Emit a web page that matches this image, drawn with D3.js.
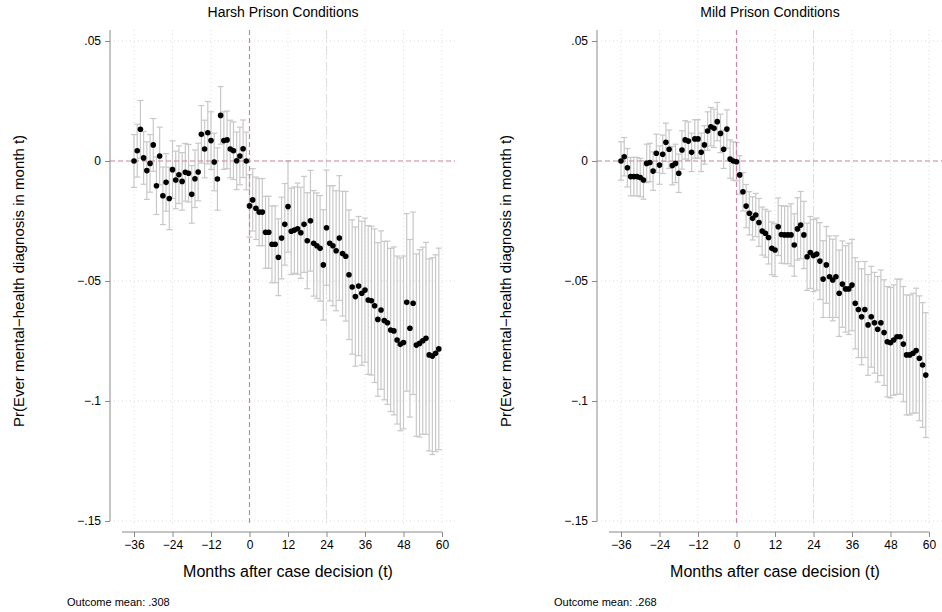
<!DOCTYPE html>
<html><head><meta charset="utf-8">
<script src="https://cdn.jsdelivr.net/npm/d3@7"></script>
<style>body{margin:0;background:#fff;font-family:"Liberation Sans",Arial,sans-serif}</style>
</head><body>
<svg id="chart" width="942" height="612"></svg>
<script>
const months = d3.range(-36, 60);
const xTicks = [-36, -24, -12, 0, 12, 24, 36, 48, 60];
const yTicks = [0.05, 0, -0.05, -0.1, -0.15];
const yTickLabels = [".05", "0", "\u2212.05", "\u2212.1", "\u2212.15"];

// harsh conditions
const harshEst = [0,.0043,.0132,.0013,-.0040,-.0010,.0067,-.0103,.0021,-.0145,-.0089,-.0156,-.0036,-.0079,-.0057,-.0085,-.0047,-.0051,-.0139,-.0074,-.0046,.0111,.0050,.0118,.0085,-.0004,-.0075,.0190,.0085,.0088,.0050,.0043,.0001,.0021,.0051,0,
 -.0187,-.0162,-.0197,-.0213,-.0213,-.0297,-.0297,-.0347,-.0347,-.0401,-.0321,-.0264,-.0190,-.0293,-.0288,-.0282,-.0299,-.0264,-.0332,-.0249,-.0343,-.0353,-.0364,-.0433,-.0278,-.0343,-.0353,-.0374,-.0321,-.0386,-.0397,-.0474,-.0525,-.0565,-.0521,-.0551,-.0538,-.0579,-.0582,-.0603,-.0660,-.0621,-.0665,-.0674,-.0704,-.0708,-.0746,-.0764,-.0756,-.0589,-.0697,-.0593,-.0767,-.0760,-.0749,-.0739,-.0808,-.0813,-.0801,-.0783];
const harshHalf = [.011,.011,.012,.011,.012,.012,.011,.012,.012,.012,.012,.013,.012,.012,.012,.012,.012,.012,.012,.012,.012,.012,.012,.013,.012,.012,.013,.012,.012,.012,.012,.012,.012,.012,.012,.012,
 .013,.013,.013,.014,.014,.015,.015,.016,.016,.016,.017,.017,.019,.018,.018,.019,.019,.020,.020,.021,.022,.022,.022,.023,.024,.024,.025,.025,.026,.026,.027,.027,.028,.029,.029,.030,.030,.031,.031,.032,.032,.033,.033,.034,.034,.035,.035,.036,.036,.037,.037,.038,.038,.039,.039,.040,.040,.041,.041,.042];

// mild conditions
const mildEst = [0,.0018,-.0028,-.0065,-.0065,-.0065,-.0069,-.0079,-.0010,-.0006,-.0042,.0032,-.0017,.0028,.0078,.0049,-.0019,-.0010,-.0051,.0046,.0088,.0083,.0036,.0092,.0092,.0036,.0067,.0125,.0143,.0136,.0164,.0115,.0049,.0133,.0008,0,
 -.0003,-.0058,-.0128,-.0188,-.0218,-.0239,-.0225,-.0256,-.0292,-.0301,-.0319,-.0364,-.0371,-.0274,-.0306,-.0308,-.0308,-.0308,-.0350,-.0283,-.0267,-.0308,-.0399,-.0381,-.0394,-.0388,-.0417,-.0492,-.0433,-.0482,-.0496,-.0482,-.0551,-.0513,-.0533,-.0533,-.0517,-.0593,-.0619,-.0649,-.0619,-.0683,-.0649,-.0674,-.0701,-.0674,-.0715,-.0753,-.0757,-.0746,-.0732,-.0732,-.0763,-.0808,-.0808,-.0801,-.0790,-.0822,-.0850,-.0892];
const mildHalf = [.008,.008,.008,.008,.008,.008,.008,.008,.008,.008,.008,.008,.008,.008,.008,.008,.008,.008,.008,.008,.008,.008,.008,.008,.008,.008,.008,.008,.008,.008,.008,.008,.008,.008,.008,.008,
 .008,.008,.008,.009,.009,.009,.009,.010,.010,.010,.011,.011,.011,.012,.012,.012,.012,.013,.013,.013,.014,.014,.014,.015,.015,.015,.016,.016,.016,.017,.017,.017,.018,.018,.018,.019,.019,.019,.020,.020,.020,.021,.021,.021,.022,.022,.022,.023,.023,.023,.024,.024,.024,.025,.025,.025,.026,.026,.026,.026];

const panels = [
  {title: "Harsh Prison Conditions", est: harshEst, half: harshHalf, mean: "Outcome mean: .308", left: 110},
  {title: "Mild Prison Conditions", est: mildEst, half: mildHalf, mean: "Outcome mean: .268", left: 597}
];

const svg = d3.select("#chart");
const pink = "#c986a8", grey = "#c8c8c8";

panels.forEach(p => {
  const g = svg.append("g");
  const x = d3.scaleLinear().domain([-36, 60]).range([p.left + 24, p.left + 332]);
  const y = d3.scaleLinear().domain([-0.15, 0.05]).range([521, 41]);
  const top = 30, bottom = 526, right = p.left + 345;

  // grid
  g.selectAll(".gx").data(xTicks).enter().append("line")
    .attr("x1", d => x(d)).attr("x2", d => x(d)).attr("y1", top).attr("y2", bottom)
    .attr("stroke", "#d4d4d4").attr("stroke-width", 0.8).attr("stroke-dasharray", "1,3");
  g.selectAll(".gy").data(yTicks).enter().append("line")
    .attr("x1", p.left).attr("x2", right).attr("y1", d => y(d)).attr("y2", d => y(d))
    .attr("stroke", "#d4d4d4").attr("stroke-width", 0.8).attr("stroke-dasharray", "1,3");
  g.append("line").attr("x1", x(24)).attr("x2", x(24)).attr("y1", top).attr("y2", bottom)
    .attr("stroke", "#dcdcdc").attr("stroke-width", 1).attr("stroke-dasharray", "8,3,2,3");

  // error bars
  const idx = d3.range(months.length);
  g.selectAll(".eb").data(idx).enter().append("line")
    .attr("x1", i => x(months[i])).attr("x2", i => x(months[i]))
    .attr("y1", i => y(p.est[i] + p.half[i])).attr("y2", i => y(p.est[i] - p.half[i]))
    .attr("stroke", grey).attr("stroke-width", 1.2);
  [1, -1].forEach(s => {
    g.selectAll(".cap" + s).data(idx).enter().append("line")
      .attr("x1", i => x(months[i]) - 3).attr("x2", i => x(months[i]) + 3)
      .attr("y1", i => y(p.est[i] + s * p.half[i])).attr("y2", i => y(p.est[i] + s * p.half[i]))
      .attr("stroke", grey).attr("stroke-width", 1.2);
  });

  // reference lines
  g.append("line").attr("x1", p.left).attr("x2", right).attr("y1", y(0)).attr("y2", y(0))
    .attr("stroke", pink).attr("stroke-width", 1.2).attr("stroke-dasharray", "5,3");
  g.append("line").attr("x1", x(0)).attr("x2", x(0)).attr("y1", top).attr("y2", bottom)
    .attr("stroke", pink).attr("stroke-width", 1.2).attr("stroke-dasharray", "5,3");

  // points
  g.selectAll(".pt").data(idx).enter().append("circle")
    .attr("cx", i => x(months[i])).attr("cy", i => y(p.est[i])).attr("r", 2.8).attr("fill", "#000");

  // axes
  const ya = g.append("g").attr("transform", `translate(${p.left},0)`)
    .call(d3.axisLeft(y).tickValues(yTicks).tickFormat((d, i) => yTickLabels[i]).tickSize(5).tickPadding(4));
  ya.select(".domain").attr("d", `M-0,${top}V${y(-0.15)}`);
  const xa = g.append("g").attr("transform", `translate(0,532)`)
    .call(d3.axisBottom(x).tickValues(xTicks).tickSize(5).tickPadding(3)
      .tickFormat(d => d < 0 ? "\u2212" + (-d) : d));
  xa.select(".domain").attr("d", `M${p.left + 12},0H${x(60)}`);
  [ya, xa].forEach(a => {
    a.selectAll("path,line").attr("stroke", "#8a8a8a");
    a.selectAll("text").attr("font-size", 12).attr("fill", "#000").attr("font-family", "Liberation Sans, Arial");
  });

  const cx = (p.left + 24 + p.left + 332) / 2;
  g.append("text").attr("x", cx - 5).attr("y", 17).attr("text-anchor", "middle")
    .attr("font-size", 14).text(p.title);
  g.append("text").attr("x", cx).attr("y", 577).attr("text-anchor", "middle")
    .attr("font-size", 16).text("Months after case decision (t)");
  g.append("text").attr("transform", `translate(${p.left - 86},281) rotate(-90)`)
    .attr("text-anchor", "middle").attr("font-size", 15)
    .text("Pr(Ever mental\u2212health diagnosis in month t)");
  g.append("text").attr("x", p.left - 43).attr("y", 606).attr("font-size", 11).text(p.mean);
});
</script>
</body></html>
